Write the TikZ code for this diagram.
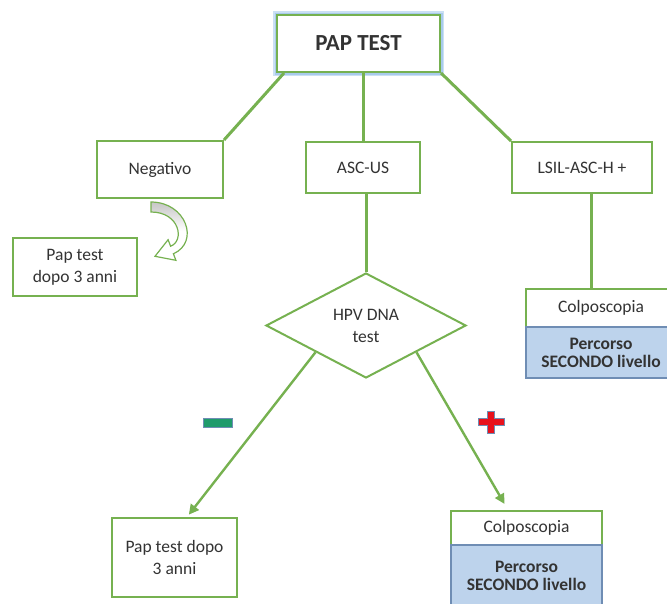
\documentclass[tikz,border=0pt]{standalone}
\usepackage{fontspec}
\setmainfont{Carlito}
\usepackage{xcolor}
\usepackage{tikz}
\usetikzlibrary{shapes.geometric, arrows.meta, positioning, calc}
\definecolor{boxgreen}{HTML}{76B150}
\definecolor{levelblue}{HTML}{BDD3EC}
\definecolor{levelline}{HTML}{6F8DB4}
\definecolor{glowblue}{HTML}{A8CBEC}
\definecolor{minusteal}{HTML}{1F9B6B}
\definecolor{plusred}{HTML}{E8121C}

\begin{document}
\begin{tikzpicture}[x=1pt, y=-1pt,
  every node/.style={font=\fontsize{17.5}{22}\selectfont, text=black!80},
  stepbox/.style={draw=boxgreen, line width=2pt, fill=white, align=center, inner sep=0pt},
  levelbox/.style={draw=levelline, line width=1.2pt, fill=levelblue, align=center, inner sep=0pt,
    font=\fontsize{17.5}{18}\selectfont\bfseries},
  decision/.style={diamond, draw=boxgreen, line width=2pt, fill=white, align=center, inner sep=0pt,
    minimum width=200pt, minimum height=105pt},
  link/.style={boxgreen, line width=3pt},
  arrowlink/.style={boxgreen, line width=2.4pt, -{Triangle[length=10pt, width=10pt]}}
]
  \useasboundingbox (0,0) rectangle (667,603);

  % Top of the chart
  \node[stepbox, minimum width=163pt, minimum height=57pt, font=\fontsize{23}{27}\selectfont\bfseries,
    preaction={draw=glowblue!60, line width=8pt}, preaction={draw=glowblue, line width=5pt}] (paptest) at (358.5,43.5) {PAP TEST};

  % First level results
  \node[stepbox, minimum width=126pt, minimum height=57pt] (negativo) at (160,169.5) {Negativo};
  \node[stepbox, minimum width=114pt, minimum height=51pt] (ascus) at (363,167.5) {ASC-US};
  \node[stepbox, minimum width=140pt, minimum height=51pt] (lsil) at (582,167.5) {LSIL-ASC-H +};

  % Negativo branch
  \node[stepbox, minimum width=124pt, minimum height=58pt] (papleft) at (75,267) {Pap test\\dopo 3 anni};

  % ASC-US branch - triage test
  \node[decision] (hpv) at (366,325.5) {HPV DNA\\test};

  % LSIL branch - straight to colposcopy
  \node[stepbox, minimum width=150pt, minimum height=38pt] (colpotop) at (601,308) {Colposcopia};
  \node[levelbox, minimum width=150pt, minimum height=51pt] (percorsotop) at (601,352.5) {Percorso\\SECONDO livello};

  % HPV outcomes
  \node[stepbox, minimum width=125pt, minimum height=79pt] (papbottom) at (174.5,557.5) {Pap test dopo\\3 anni};
  \node[stepbox, minimum width=151pt, minimum height=34pt] (colpobottom) at (526.5,528) {Colposcopia};
  \node[levelbox, minimum width=151pt, minimum height=62pt] (percorsobottom) at (526.5,576) {Percorso\\SECONDO livello};

  % Tree lines
  \draw[link] ([xshift=8pt]paptest.south west) -- (negativo.north east);
  \draw[link] (paptest.south -| ascus.north) -- (ascus.north);
  \draw[link] (paptest.south east) -- (lsil.north west);
  \draw[link] (ascus.south -| hpv.north) -- (hpv.north);
  \coordinate (lsildrop) at ([xshift=-10pt]colpotop.north);
  \draw[link] (lsildrop |- lsil.south) -- (lsildrop);

  % Curved block arrow under Negativo
  \draw[boxgreen, line width=1.2pt, top color=gray!45, bottom color=white, middle color=white]
    (151,202) .. controls (186,202) and (200,242) .. (173.4,253.8)
    -- (175.9,260.3) -- (155,256.3) -- (168.1,239.7) -- (170.6,246.2)
    .. controls (184.7,241) and (180,212) .. (151,212) -- cycle;

  % HPV arrows
  \draw[arrowlink, shorten >=3pt] (hpv.south west) -- ([xshift=12.5pt]papbottom.north);
  \draw[arrowlink, shorten >=7pt] (hpv.south east) -- ([xshift=-18.5pt]colpobottom.north);

  % Minus and plus signs
  \filldraw[fill=minusteal, draw=levelline, line width=0.8pt] (203,418) rectangle (232,427);
  \filldraw[fill=plusred, draw=levelline, line width=0.8pt]
    (478,418.5) -- (487.5,418.5) -- (487.5,411) -- (494.5,411) -- (494.5,418.5) -- (504,418.5)
    -- (504,425.5) -- (494.5,425.5) -- (494.5,433) -- (487.5,433) -- (487.5,425.5) -- (478,425.5) -- cycle;
\end{tikzpicture}
\end{document}
